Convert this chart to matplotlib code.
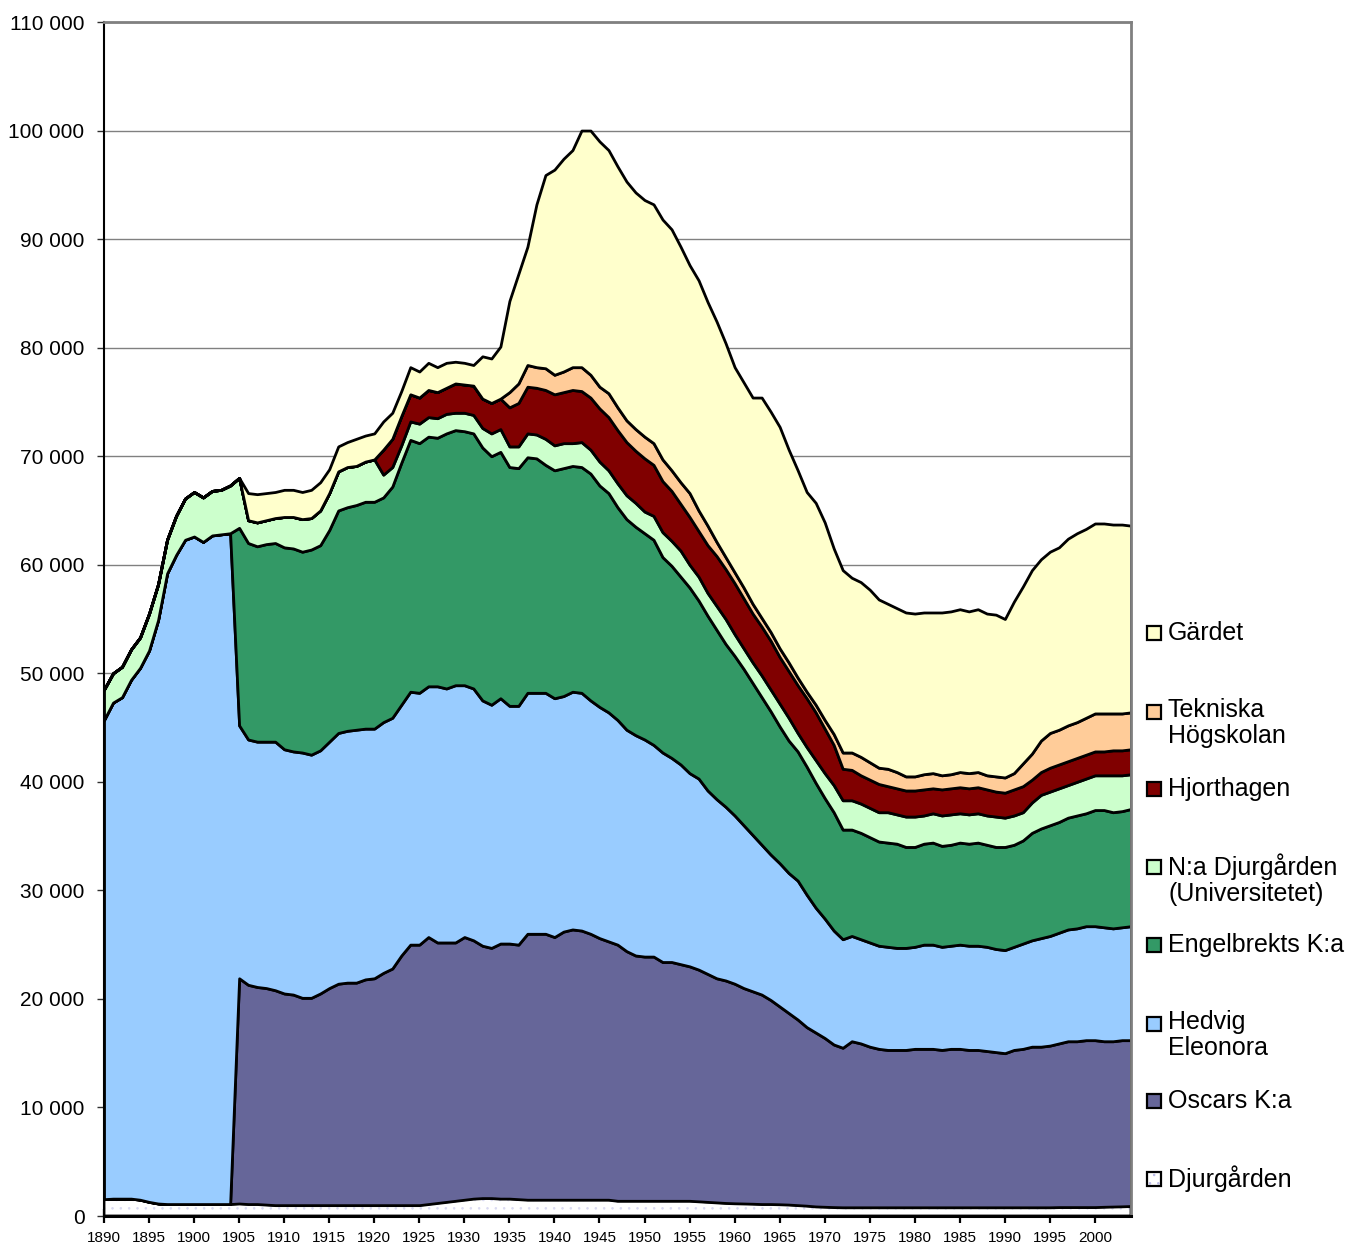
import matplotlib
matplotlib.use("Agg")
import matplotlib.pyplot as plt
from matplotlib.patches import Rectangle
from matplotlib.ticker import FuncFormatter, FixedLocator

plt.rcParams['font.family'] = ['Liberation Sans', 'DejaVu Sans']

years = list(range(1890, 2005))

djurgarden = [
    1550, 1600, 1600, 1600, 1500, 1300, 1150, 1100, 1100, 1100,
    1100, 1100, 1100, 1100, 1100, 1150, 1100, 1100, 1050, 1000,
    1000, 1000, 1000, 1000, 1000, 1000, 1000, 1000, 1000, 1000,
    1000, 1000, 1000, 1000, 1000, 1000, 1100, 1200, 1300, 1400,
    1500, 1600, 1650, 1650, 1600, 1600, 1550, 1500, 1500, 1500,
    1500, 1500, 1500, 1500, 1500, 1500, 1500, 1400, 1400, 1400,
    1400, 1400, 1400, 1400, 1400, 1400, 1350, 1300, 1250, 1200,
    1170, 1150, 1130, 1100, 1100, 1080, 1050, 1000, 950, 880,
    850, 820, 800, 800, 800, 800, 800, 800, 800, 800,
    800, 800, 800, 800, 800, 800, 800, 800, 800, 800,
    800, 800, 800, 800, 800, 800, 820, 820, 820, 820,
    820, 850, 870, 890, 920]

oscars = [
    0, 0, 0, 0, 0, 0, 0, 0, 0, 0,
    0, 0, 0, 0, 0, 20750, 20200, 20000, 19950, 19800,
    19500, 19400, 19100, 19100, 19500, 20000, 20400, 20500, 20500, 20800,
    20900, 21400, 21800, 23000, 24000, 24000, 24600, 24000, 23900, 23800,
    24200, 23800, 23250, 23050, 23500, 23500, 23450, 24500, 24500, 24500,
    24200, 24700, 24900, 24800, 24500, 24100, 23800, 23600, 23000, 22600,
    22500, 22500, 22000, 22000, 21800, 21600, 21350, 21000, 20650, 20500,
    20230, 19850, 19570, 19300, 18800, 18220, 17650, 17100, 16450, 16020,
    15550, 14980, 14700, 15300, 15100, 14800, 14600, 14500, 14500, 14500,
    14600, 14600, 14600, 14500, 14600, 14600, 14500, 14500, 14400, 14300,
    14200, 14500, 14600, 14800, 14800, 14900, 15080, 15280, 15280, 15380,
    15380, 15250, 15230, 15310, 15280]

hedvig = [
    44150, 45700, 46200, 47800, 49000, 50800, 53750, 58100, 59800, 61200,
    61500, 61000, 61600, 61700, 61800, 23300, 22600, 22600, 22700, 22900,
    22500, 22400, 22600, 22400, 22400, 22700, 23100, 23200, 23300, 23100,
    23000, 23100, 23100, 23100, 23300, 23200, 23100, 23600, 23400, 23700,
    23200, 23200, 22600, 22400, 22600, 21900, 22000, 22200, 22200, 22200,
    22000, 21700, 21900, 21900, 21500, 21300, 21100, 20700, 20400, 20300,
    20000, 19500, 19300, 18800, 18400, 17800, 17600, 16900, 16500, 16000,
    15500, 15000, 14400, 13800, 13400, 13200, 12900, 12800, 12200, 11500,
    11000, 10500, 10000, 9700, 9600, 9600, 9500, 9500, 9400, 9400,
    9400, 9600, 9600, 9500, 9500, 9600, 9600, 9600, 9600, 9500,
    9500, 9500, 9700, 9800, 10000, 10100, 10200, 10300, 10400, 10500,
    10500, 10500, 10400, 10400, 10500]

engelbrekt = [
    0, 0, 0, 0, 0, 0, 0, 0, 0, 0,
    0, 0, 0, 0, 0, 18200, 18100, 18000, 18200, 18300,
    18600, 18700, 18500, 18900, 18900, 19500, 20500, 20600, 20700, 20900,
    20900, 20700, 21300, 22300, 23200, 23000, 23000, 22900, 23500, 23500,
    23400, 23500, 23300, 22900, 22700, 22000, 21900, 21700, 21600, 21000,
    21000, 21000, 20800, 20800, 20900, 20400, 20200, 19600, 19400, 19200,
    19000, 18900, 18000, 17700, 17300, 17100, 16400, 16100, 15600, 15000,
    14700, 14400, 14000, 13600, 13200, 12600, 12200, 11900, 11800, 11500,
    11100, 10900, 10100, 9800, 9800, 9700, 9600, 9600, 9600, 9300,
    9200, 9300, 9400, 9300, 9300, 9400, 9400, 9500, 9400, 9400,
    9500, 9400, 9500, 9900, 10100, 10200, 10200, 10300, 10400, 10400,
    10700, 10800, 10700, 10700, 10800]

na_djurgarden = [
    2800, 2700, 2800, 2800, 2800, 3400, 3300, 3100, 3600, 3800,
    4100, 4100, 4100, 4100, 4400, 4600, 2100, 2200, 2200, 2300,
    2800, 2900, 3000, 2900, 3200, 3400, 3600, 3700, 3600, 3700,
    3900, 2100, 1800, 1600, 1700, 1800, 1800, 1800, 1800, 1600,
    1700, 1700, 1800, 2100, 2100, 1900, 2000, 2200, 2200, 2400,
    2300, 2300, 2100, 2300, 2200, 2200, 2100, 2200, 2200, 2200,
    2000, 2200, 2300, 2300, 2400, 2100, 2200, 2100, 2200, 2300,
    2000, 1900, 1900, 2000, 2000, 2100, 2100, 1700, 1800, 2100,
    2300, 2500, 2700, 2700, 2700, 2700, 2700, 2800, 2700, 2800,
    2800, 2600, 2700, 2800, 2800, 2700, 2700, 2700, 2700, 2800,
    2700, 2700, 2600, 2800, 3100, 3100, 3100, 3000, 3100, 3200,
    3200, 3200, 3400, 3300, 3200]

hjorthagen = [
    0, 0, 0, 0, 0, 0, 0, 0, 0, 0,
    0, 0, 0, 0, 0, 0, 0, 0, 0, 0,
    0, 0, 0, 0, 0, 0, 0, 0, 0, 0,
    0, 2300, 2600, 2700, 2500, 2400, 2500, 2400, 2400, 2700,
    2600, 2700, 2700, 2800, 2800, 3600, 4000, 4300, 4300, 4500,
    4700, 4700, 4900, 4700, 4800, 4900, 4900, 4900, 4900, 4800,
    4900, 4700, 4700, 4600, 4300, 4400, 4200, 4400, 4600, 4600,
    4700, 4600, 4500, 4500, 4500, 4300, 4300, 4400, 4500, 4400,
    4100, 3700, 2900, 2800, 2600, 2600, 2600, 2400, 2400, 2400,
    2400, 2400, 2300, 2400, 2400, 2400, 2400, 2400, 2400, 2300,
    2300, 2400, 2400, 2100, 2100, 2200, 2200, 2200, 2200, 2200,
    2200, 2200, 2300, 2300, 2300]

tekniska = [
    0, 0, 0, 0, 0, 0, 0, 0, 0, 0,
    0, 0, 0, 0, 0, 0, 0, 0, 0, 0,
    0, 0, 0, 0, 0, 0, 0, 0, 0, 0,
    0, 0, 0, 0, 0, 0, 0, 0, 0, 0,
    0, 0, 0, 0, 0, 1400, 1800, 2000, 1900, 2000,
    1800, 1900, 2100, 2200, 2100, 2000, 2200, 2100, 2000, 2000,
    2000, 2000, 2000, 1900, 2000, 2200, 1900, 1800, 1300, 1100,
    1000, 1000, 900, 800, 800, 800, 800, 700, 600, 700,
    800, 1000, 1500, 1600, 1700, 1600, 1500, 1600, 1500, 1300,
    1300, 1400, 1400, 1300, 1300, 1400, 1400, 1400, 1300, 1400,
    1400, 1500, 2100, 2400, 2900, 3200, 3200, 3300, 3300, 3400,
    3500, 3500, 3400, 3400, 3400]

gardet = [
    0, 0, 0, 0, 0, 0, 0, 0, 0, 0,
    0, 0, 0, 0, 0, 0, 2500, 2600, 2500, 2400,
    2500, 2500, 2500, 2600, 2600, 2200, 2300, 2300, 2500, 2400,
    2400, 2600, 2400, 2300, 2500, 2400, 2500, 2300, 2300, 2000,
    2000, 1900, 3900, 4100, 4800, 8400, 10100, 10900, 15000, 17800,
    18900, 19600, 20000, 21800, 22500, 22600, 22400, 22200, 22000, 21800,
    21800, 22000, 22100, 22200, 21700, 21000, 21200, 20600, 20300, 19700,
    18900, 18900, 19000, 20300, 20300, 20400, 19600, 19100, 18400, 18600,
    18200, 17100, 16800, 16100, 16100, 15900, 15500, 15200, 15100, 15100,
    15000, 14900, 14800, 15000, 15000, 15000, 14900, 15000, 14900, 14900,
    14600, 15800, 16300, 16900, 16700, 16700, 16800, 17200, 17400, 17400,
    17500, 17500, 17400, 17400, 17200]

series_labels = ["Djurgården", "Oscars K:a", "Hedvig\nEleonora", "Engelbrekts K:a",
                 "N:a Djurgården\n(Universitetet)", "Hjorthagen",
                 "Tekniska\nHögskolan", "Gärdet"]
series_colors = ["#FFFFFF", "#666699", "#99CCFF", "#339966",
                 "#CCFFCC", "#800000", "#FFCC99", "#FFFFCC"]
x_tick_years = list(range(1890, 2001, 5))
y_ticks = list(range(0, 110001, 10000))

W, H = 1348, 1250
fig = plt.figure(figsize=(W / 100, H / 100), dpi=100)
ax = fig.add_axes([104 / W, 34 / H, 1027 / W, 1194 / H])

series = [djurgarden, oscars, hedvig, engelbrekt, na_djurgarden,
          hjorthagen, tekniska, gardet]
plt.rcParams['hatch.linewidth'] = 0.6
# faint dotted pattern of the Djurgården area (drawn under the outlines)
ax.fill_between(years, 0, djurgarden, facecolor="white", edgecolor="#dadaf2",
                linewidth=0, hatch="..", zorder=1.9)
colors_draw = ["none"] + series_colors[1:]
polys = ax.stackplot(years, *series, colors=colors_draw,
                     edgecolor="black", linewidth=2.0, zorder=2)

ax.set_xlim(1890, 2004)
ax.set_ylim(0, 110000)

ax.yaxis.set_major_locator(FixedLocator(y_ticks))
ax.yaxis.set_major_formatter(FuncFormatter(lambda v, p: f"{int(v):,}".replace(",", " ")))
ax.xaxis.set_major_locator(FixedLocator(x_tick_years))
ax.xaxis.set_major_formatter(FuncFormatter(lambda v, p: f"{int(round(v))}"))

ax.yaxis.grid(True, color="#808080", linewidth=1.0)
ax.set_axisbelow(True)

ax.tick_params(axis="y", direction="out", length=5, width=1.0, color="#303030",
               labelsize=15, pad=9)
ax.tick_params(axis="x", direction="inout", length=10, width=1.6, color="black",
               labelsize=11, pad=6)

for side in ("top", "right"):
    ax.spines[side].set_color("#808080")
    ax.spines[side].set_linewidth(2.0)
ax.spines["left"].set_color("black")
ax.spines["left"].set_linewidth(1.5)
ax.spines["bottom"].set_color("black")
ax.spines["bottom"].set_linewidth(2.2)
for sp in ax.spines.values():
    sp.set_zorder(3)

# legend, laid out like the original (top entry = top layer)
legend_rows = [633, 712, 789, 867, 945, 1024, 1101, 1179]
order = list(range(len(series_labels)))[::-1]
for row_y, idx in zip(legend_rows, order):
    sq = 14
    xy = (1147 / W, 1 - (row_y + sq / 2) / H)
    if idx == 0:
        fig.add_artist(Rectangle(xy, sq / W, sq / H, transform=fig.transFigure,
                                 facecolor="white", edgecolor="#b8b8e6",
                                 linewidth=0, hatch=".."))
        face = "none"
    else:
        face = series_colors[idx]
    fig.add_artist(Rectangle(xy, sq / W, sq / H, transform=fig.transFigure,
                             facecolor=face, edgecolor="black", linewidth=1.6))
    lbl = series_labels[idx]
    if "\n" in lbl:
        fig.text(1168 / W, 1 - (row_y - 14) / H, lbl, fontsize=18, va="top",
                 ha="left", linespacing=1.1)
    else:
        fig.text(1168 / W, 1 - row_y / H, lbl, fontsize=18, va="center", ha="left")

fig.savefig("out.png", dpi=100)
